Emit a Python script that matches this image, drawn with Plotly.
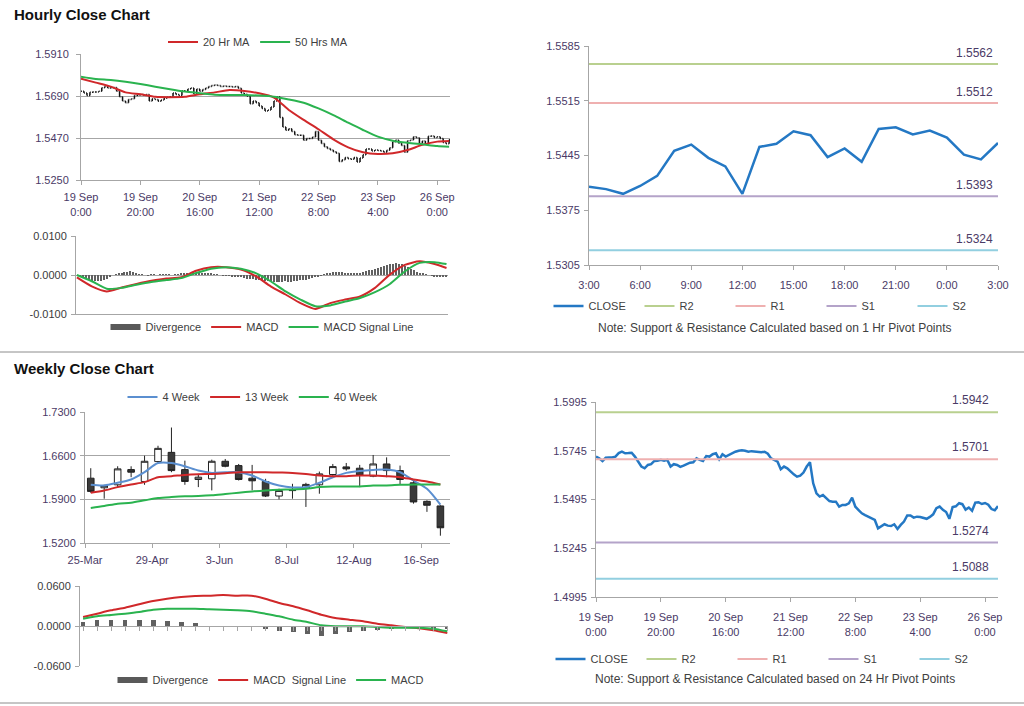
import plotly.graph_objects as go

FONT = "Liberation Sans, Arial, sans-serif"
W, H = 1024, 706
TICK_CLR = "#4a3a66"
TXT_CLR = "#404040"
GRID = "#a6a6a6"

# ---------------- Hourly data ----------------
hourly_close = [
    1.5715, 1.5706, 1.5692, 1.5709, 1.5711, 1.5711, 1.5715, 1.5733, 1.5740, 1.5732,
    1.5733, 1.5735, 1.5715, 1.5686, 1.5664, 1.5655, 1.5672, 1.5676, 1.5693, 1.5694,
    1.5698, 1.5694, 1.5698, 1.5664, 1.5676, 1.5672, 1.5662, 1.5669, 1.5678, 1.5684,
    1.5686, 1.5706, 1.5698, 1.5692, 1.5718, 1.5715, 1.5727, 1.5732, 1.5701, 1.5727,
    1.5715, 1.5724, 1.5732, 1.5740, 1.5745, 1.5747, 1.5745, 1.5740, 1.5743, 1.5740,
    1.5740, 1.5737, 1.5740, 1.5730, 1.5706, 1.5699, 1.5689, 1.5650, 1.5664, 1.5655,
    1.5638, 1.5624, 1.5612, 1.5617, 1.5633, 1.5664, 1.5686, 1.5578, 1.5527, 1.5510,
    1.5518, 1.5504, 1.5487, 1.5484, 1.5484, 1.5458, 1.5467, 1.5467, 1.5475, 1.5504,
    1.5458, 1.5441, 1.5424, 1.5415, 1.5407, 1.5398, 1.5390, 1.5347, 1.5356, 1.5368,
    1.5361, 1.5359, 1.5368, 1.5344, 1.5365, 1.5382, 1.5413, 1.5413, 1.5402, 1.5407,
    1.5405, 1.5402, 1.5396, 1.5406, 1.5419, 1.5451, 1.5459, 1.5442, 1.5431, 1.5396,
    1.5456, 1.5460, 1.5476, 1.5471, 1.5443, 1.5454, 1.5437, 1.5479, 1.5481, 1.5472,
    1.5477, 1.5468, 1.5446, 1.5440, 1.5461,
]
hourly_tick_idx = [0, 20, 40, 60, 80, 100, 120]
hourly_tick_text = ["19 Sep<br>0:00", "19 Sep<br>20:00", "20 Sep<br>16:00", "21 Sep<br>12:00",
                    "22 Sep<br>8:00", "23 Sep<br>4:00", "26 Sep<br>0:00"]

ma_idx = [0, 5, 10, 15, 20, 25, 30, 35, 40, 45, 50, 55, 60, 65, 70, 75, 80, 85, 90, 95,
          100, 105, 110, 115, 120, 124]
ma20_hourly = [1.5781, 1.5760, 1.5739, 1.5709, 1.5699, 1.5686, 1.5684, 1.5686, 1.5699, 1.5709,
               1.5721, 1.5716, 1.5704, 1.5682, 1.5617, 1.5565, 1.5516, 1.5463, 1.5421, 1.5395,
               1.5386, 1.5390, 1.5407, 1.5434, 1.5451, 1.5454]
ma50_hourly = [1.5791, 1.5779, 1.5774, 1.5765, 1.5753, 1.5739, 1.5725, 1.5713, 1.5705, 1.5697,
               1.5695, 1.5695, 1.5692, 1.5686, 1.5672, 1.5655, 1.5625, 1.5590, 1.5550, 1.5512,
               1.5477, 1.5456, 1.5445, 1.5437, 1.5428, 1.5424]
macd_hourly = [-0.0006, -0.0029, -0.0042, -0.0032, -0.0023, -0.0015, -0.0009, -0.0006, 0.0011, 0.0020,
               0.0020, 0.0014, -0.0003, -0.0029, -0.0050, -0.0072, -0.0087, -0.0072, -0.0063, -0.0055,
               -0.0033, 0.0001, 0.0026, 0.0035, 0.0028, 0.0018]
signal_hourly = [0.0000, -0.0016, -0.0035, -0.0033, -0.0025, -0.0018, -0.0013, -0.0008, 0.0005, 0.0016,
                 0.0020, 0.0016, 0.0005, -0.0016, -0.0042, -0.0063, -0.0080, -0.0078, -0.0068, -0.0059,
                 -0.0044, -0.0023, 0.0009, 0.0031, 0.0033, 0.0028]
divergence_hourly = [
    0.0000,
    -0.0005, -0.0008, -0.0011, -0.0013, -0.0015, -0.0016, -0.0016, -0.0015, -0.0012, -0.0009, -0.0005,
    0.0000, 0.0002,
    0.0003, 0.0005, 0.0007, 0.0008, 0.0009, 0.0007, 0.0004,
    0.0002, 0.0001, 0.0000, -0.0001, 0.0001, 0.0001, 0.0000, 0.0001, 0.0002, 0.0002, 0.0001, 0.0000,
    0.0001, 0.0002, 0.0003,
    0.0004, 0.0005, 0.0006, 0.0006, 0.0006, 0.0005, 0.0005, 0.0004, 0.0004, 0.0003, 0.0002, 0.0001,
    0.0000, -0.0001, -0.0001,
    -0.0002, -0.0003, -0.0004, -0.0005, -0.0006,
    -0.0007, -0.0009, -0.0010, -0.0011, -0.0012, -0.0013, -0.0014, -0.0015, -0.0016, -0.0017,
    -0.0017, -0.0018, -0.0018, -0.0017, -0.0016, -0.0017, -0.0018, -0.0016, -0.0015, -0.0014,
    -0.0013, -0.0012, -0.0010, -0.0008, -0.0006, -0.0004, -0.0002,
    0.0001, 0.0003, 0.0005, 0.0007, 0.0008, 0.0008, 0.0007, 0.0006, 0.0005, 0.0004, 0.0004,
    0.0005, 0.0006, 0.0008,
    0.0010, 0.0012, 0.0014, 0.0016, 0.0018, 0.0020, 0.0022, 0.0025, 0.0028, 0.0029, 0.0030,
    0.0029, 0.0027, 0.0024, 0.0020, 0.0016,
    0.0012, 0.0008, 0.0005, 0.0003, 0.0001, 0.0000,
    -0.0002, -0.0003, -0.0004, -0.0004, -0.0005, -0.0006,
]

last_day_labels = ["3:00", "6:00", "9:00", "12:00", "15:00", "18:00", "21:00", "0:00", "3:00"]
pivot_names = ["R2", "R1", "S1", "S2"]
pivot_colors = ["#b9d08f", "#efb0b0", "#b4a3c9", "#92cfe0"]
pivots_1h = [1.5562, 1.5512, 1.5393, 1.5324]
pivots_24h = [1.5942, 1.5701, 1.5274, 1.5088]

# ---------------- Weekly data ----------------
weekly_dates = ["2011-03-28", "2011-04-04", "2011-04-11", "2011-04-18", "2011-04-25", "2011-05-02",
                "2011-05-09", "2011-05-16", "2011-05-23", "2011-05-30", "2011-06-06", "2011-06-13",
                "2011-06-20", "2011-06-27", "2011-07-04", "2011-07-11", "2011-07-18", "2011-07-25",
                "2011-08-01", "2011-08-08", "2011-08-15", "2011-08-22", "2011-08-29", "2011-09-05",
                "2011-09-12", "2011-09-19", "2011-09-26"]
weekly_open = [1.6239, 1.6085, 1.6133, 1.6377, 1.6186, 1.6505, 1.6653, 1.6377, 1.6218, 1.6229,
               1.6510, 1.6441, 1.6239, 1.6186, 1.5953, 1.6040, 1.6080, 1.6133, 1.6298, 1.6420,
               1.6399, 1.6271, 1.6467, 1.6361, 1.6165, 1.5868, 1.5794]
weekly_high = [1.6399, 1.6135, 1.6430, 1.6430, 1.6600, 1.6759, 1.7051, 1.6520, 1.6308, 1.6536,
               1.6547, 1.6467, 1.6452, 1.6229, 1.6070, 1.6149, 1.6165, 1.6345, 1.6467, 1.6483,
               1.6452, 1.6611, 1.6573, 1.6441, 1.6202, 1.5884, 1.5805]
weekly_low = [1.6006, 1.5910, 1.6096, 1.6255, 1.6133, 1.6483, 1.6335, 1.6133, 1.6096, 1.6043,
              1.6414, 1.6202, 1.6043, 1.5937, 1.5900, 1.5910, 1.5778, 1.5990, 1.6255, 1.6361,
              1.6096, 1.6255, 1.6255, 1.6133, 1.5831, 1.5699, 1.5317]
weekly_close = [1.6027, 1.6120, 1.6388, 1.6335, 1.6510, 1.6717, 1.6361, 1.6186, 1.6255, 1.6510,
                1.6430, 1.6218, 1.6197, 1.5953, 1.6043, 1.6045, 1.6139, 1.6308, 1.6425, 1.6388,
                1.6282, 1.6467, 1.6361, 1.6218, 1.5858, 1.5805, 1.5444]
ma4_weekly = [1.6133, 1.6123, 1.6165, 1.6218, 1.6335, 1.6483, 1.6483, 1.6430, 1.6361, 1.6324,
              1.6335, 1.6335, 1.6282, 1.6186, 1.6123, 1.6091, 1.6096, 1.6165, 1.6255, 1.6324,
              1.6356, 1.6372, 1.6377, 1.6335, 1.6202, 1.6070, 1.5815]
ma13_weekly = [1.6006, 1.6043, 1.6096, 1.6139, 1.6176, 1.6255, 1.6271, 1.6292, 1.6303, 1.6308,
               1.6319, 1.6335, 1.6335, 1.6335, 1.6330, 1.6324, 1.6308, 1.6282, 1.6271, 1.6271,
               1.6282, 1.6282, 1.6271, 1.6255, 1.6218, 1.6186, 1.6139]
ma40_weekly = [1.5762, 1.5794, 1.5831, 1.5847, 1.5884, 1.5921, 1.5937, 1.5948, 1.5953, 1.5964,
               1.5985, 1.6006, 1.6027, 1.6043, 1.6054, 1.6059, 1.6070, 1.6096, 1.6107, 1.6107,
               1.6107, 1.6123, 1.6123, 1.6133, 1.6139, 1.6139, 1.6139]
weekly_tick_dates = ["2011-03-25", "2011-04-29", "2011-06-03", "2011-07-08", "2011-08-12", "2011-09-16"]
weekly_tick_text = ["25-Mar", "29-Apr", "3-Jun", "8-Jul", "12-Aug", "16-Sep"]

weekly_signal = [0.0135, 0.0185, 0.0235, 0.0275, 0.0325, 0.0375, 0.0410, 0.0435, 0.0450, 0.0455,
                 0.0465, 0.0455, 0.0455, 0.0410, 0.0345, 0.0295, 0.0235, 0.0170, 0.0120, 0.0095,
                 0.0070, 0.0035, 0.0010, -0.0015, -0.0035, -0.0065, -0.0105]
weekly_macd = [0.0110, 0.0145, 0.0165, 0.0185, 0.0210, 0.0245, 0.0260, 0.0260, 0.0260, 0.0250,
               0.0245, 0.0235, 0.0220, 0.0185, 0.0145, 0.0095, 0.0060, 0.0010, -0.0005, -0.0005,
               -0.0005, -0.0015, -0.0025, -0.0025, -0.0025, -0.0040, -0.0080]
weekly_div = [0.0060, 0.0095, 0.0095, 0.0095, 0.0095, 0.0095, 0.0075, 0.0060, 0.0045, 0.0000,
              0.0000, -0.0010, -0.0015, -0.0045, -0.0080, -0.0095, -0.0115, -0.0145, -0.0125, -0.0095,
              -0.0075, -0.0055, -0.0040, -0.0035, -0.0035, -0.0045, -0.0045]

# ---------------- helpers ----------------
def dom_x(x0, x1):
    return [x0 / W, x1 / W]

def dom_y(ytop, ybot):
    return [1 - ybot / H, 1 - ytop / H]

hidx = list(range(len(hourly_close)))
h_open = [hourly_close[0]] + hourly_close[:-1]
h_high = [max(o, c) for o, c in zip(h_open, hourly_close)]
h_low = [min(o, c) for o, c in zip(h_open, hourly_close)]

RED = "#d0282a"
GREEN = "#2ab34f"
BLUE = "#2478c4"
BLUE_LT = "#5b8fd0"

fig = go.Figure()

# ---- Panel 1: hourly bars + MAs ----
fig.add_trace(go.Ohlc(x=hidx, open=h_open, high=h_high, low=h_low, close=hourly_close,
                      increasing=dict(line=dict(color="#111", width=1.5)),
                      decreasing=dict(line=dict(color="#111", width=1.5)),
                      tickwidth=0.3, showlegend=False, xaxis="x", yaxis="y", hoverinfo="skip"))
fig.add_trace(go.Scatter(x=ma_idx, y=ma20_hourly, mode="lines", name="20 Hr MA",
                         line=dict(color=RED, width=2, shape="spline", smoothing=0.6),
                         xaxis="x", yaxis="y", legend="legend"))
fig.add_trace(go.Scatter(x=ma_idx, y=ma50_hourly, mode="lines", name="50 Hrs MA",
                         line=dict(color=GREEN, width=2, shape="spline", smoothing=0.6),
                         xaxis="x", yaxis="y", legend="legend"))

# ---- Panel 2: hourly MACD ----
fig.add_trace(go.Bar(x=hidx, y=divergence_hourly, marker=dict(color="#606060", line=dict(width=0)),
                     width=0.4, showlegend=False, xaxis="x2", yaxis="y2"))
fig.add_trace(go.Scatter(x=[None], y=[None], mode="lines", name="Divergence",
                         line=dict(color="#595959", width=6), xaxis="x2", yaxis="y2", legend="legend2"))
fig.add_trace(go.Scatter(x=ma_idx, y=macd_hourly, mode="lines", name="MACD",
                         line=dict(color=RED, width=2, shape="spline", smoothing=0.6),
                         xaxis="x2", yaxis="y2", legend="legend2"))
fig.add_trace(go.Scatter(x=ma_idx, y=signal_hourly, mode="lines", name="MACD Signal Line",
                         line=dict(color=GREEN, width=2, shape="spline", smoothing=0.6),
                         xaxis="x2", yaxis="y2", legend="legend2"))

# ---- Panel 3: last 24h close + pivots (1h) ----
last_day = hourly_close[-25:]
ld_idx = list(range(len(last_day)))
fig.add_trace(go.Scatter(x=ld_idx, y=last_day, mode="lines", name="CLOSE",
                         line=dict(color=BLUE, width=2.5), xaxis="x3", yaxis="y3", legend="legend3"))
for nm, clr, lv in zip(pivot_names, pivot_colors, pivots_1h):
    fig.add_trace(go.Scatter(x=[ld_idx[0], ld_idx[-1]], y=[lv, lv], mode="lines", name=nm,
                             line=dict(color=clr, width=2), xaxis="x3", yaxis="y3", legend="legend3"))
    fig.add_annotation(x=ld_idx[-1], y=lv, xref="x3", yref="y3", text=f"{lv:.4f}", showarrow=False,
                       xanchor="right", yanchor="bottom", yshift=2, xshift=-3,
                       font=dict(size=12, color=TICK_CLR, family=FONT))

# ---- Panel 4: weekly candles + MAs ----
fig.add_trace(go.Candlestick(x=weekly_dates, open=weekly_open, high=weekly_high, low=weekly_low,
                             close=weekly_close,
                             increasing=dict(line=dict(color="#222", width=1), fillcolor="#ffffff"),
                             decreasing=dict(line=dict(color="#222", width=1), fillcolor="#3a3a3a"),
                             whiskerwidth=0, showlegend=False, xaxis="x4", yaxis="y4", hoverinfo="skip"))
for nm, vals, clr in [("4 Week", ma4_weekly, BLUE_LT), ("13 Week", ma13_weekly, RED),
                      ("40 Week", ma40_weekly, GREEN)]:
    fig.add_trace(go.Scatter(x=weekly_dates, y=vals, mode="lines", name=nm,
                             line=dict(color=clr, width=2, shape="spline", smoothing=0.8),
                             xaxis="x4", yaxis="y4", legend="legend4"))

# ---- Panel 5: weekly MACD ----
widx = list(range(len(weekly_dates)))
fig.add_trace(go.Bar(x=widx, y=weekly_div, marker=dict(color="#606060", line=dict(width=0)),
                     width=0.34, showlegend=False, xaxis="x5", yaxis="y5"))
fig.add_trace(go.Scatter(x=[None], y=[None], mode="lines", name="Divergence",
                         line=dict(color="#595959", width=6), xaxis="x5", yaxis="y5", legend="legend5"))
fig.add_trace(go.Scatter(x=widx, y=weekly_signal, mode="lines", name="MACD  Signal Line",
                         line=dict(color=RED, width=2, shape="spline", smoothing=0.6),
                         xaxis="x5", yaxis="y5", legend="legend5"))
fig.add_trace(go.Scatter(x=widx, y=weekly_macd, mode="lines", name="MACD",
                         line=dict(color=GREEN, width=2, shape="spline", smoothing=0.6),
                         xaxis="x5", yaxis="y5", legend="legend5"))

# ---- Panel 6: hourly close + pivots (24h) ----
fig.add_trace(go.Scatter(x=hidx, y=hourly_close, mode="lines", name="CLOSE",
                         line=dict(color=BLUE, width=2.5), xaxis="x6", yaxis="y6", legend="legend6"))
for nm, clr, lv in zip(pivot_names, pivot_colors, pivots_24h):
    fig.add_trace(go.Scatter(x=[hidx[0], hidx[-1]], y=[lv, lv], mode="lines", name=nm,
                             line=dict(color=clr, width=2), xaxis="x6", yaxis="y6", legend="legend6"))
    fig.add_annotation(x=hidx[-1], y=lv, xref="x6", yref="y6", text=f"{lv:.4f}", showarrow=False,
                       xanchor="right", yanchor="bottom", yshift=3, xshift=-7,
                       font=dict(size=12, color=TICK_CLR, family=FONT))

# ---------------- axes ----------------
tf = dict(size=11, color=TICK_CLR, family=FONT)
tf2 = dict(size=11, color="#3a3a3a", family=FONT)

def yax(domain, anchor, rng, tickvals, fmt, grid=True, font=tf, standoff=2):
    return dict(domain=domain, anchor=anchor, range=rng, tickvals=tickvals,
                ticktext=[format(v, fmt) for v in tickvals], tickfont=font,
                showgrid=grid, gridcolor=GRID, gridwidth=1, zeroline=False,
                showline=True, linecolor=GRID, linewidth=1, automargin=False,
                ticks="outside", ticklen=4, tickcolor=GRID, ticklabelstandoff=standoff, fixedrange=True)

def xax(domain, anchor, rng, tickvals=None, ticktext=None, labels=True, typ="linear"):
    d = dict(domain=domain, anchor=anchor, range=rng, type=typ, showgrid=False, zeroline=False,
             showline=True, linecolor=GRID, linewidth=1, ticks="outside", ticklen=4,
             tickcolor=GRID, tickfont=tf, showticklabels=labels, fixedrange=True, automargin=False,
             rangeslider=dict(visible=False), ticklabelstandoff=3)
    if tickvals is not None:
        d["tickvals"] = tickvals
        d["ticktext"] = ticktext
    return d

layout = dict(
    width=W, height=H, autosize=False,
    margin=dict(l=0, r=0, t=0, b=0, pad=0, autoexpand=False),
    paper_bgcolor="white", plot_bgcolor="white", font=dict(family=FONT, color=TXT_CLR, size=11),
    bargap=0, showlegend=True,
)

layout["xaxis"] = xax(dom_x(81, 450), "y", [0, 124.3], hourly_tick_idx, hourly_tick_text)
layout["yaxis"] = yax(dom_y(54, 180), "x", [1.525, 1.591], [1.525, 1.547, 1.569, 1.591], ".4f", standoff=5)

layout["xaxis2"] = xax(dom_x(76, 448), "y2", [-0.3, 124.5], labels=False)
layout["xaxis2"]["ticks"] = ""
layout["yaxis2"] = yax(dom_y(236, 314), "x2", [-0.01, 0.01], [-0.01, 0.0, 0.01], ".4f", font=tf2)
layout["yaxis2"]["zeroline"] = True
layout["yaxis2"]["zerolinecolor"] = GRID
layout["yaxis2"]["zerolinewidth"] = 1

layout["xaxis3"] = xax(dom_x(589, 998), "y3", [0, 24], list(range(0, 25, 3)), last_day_labels)
layout["xaxis3"]["ticklabelstandoff"] = 6
layout["yaxis3"] = yax(dom_y(46, 265), "x3", [1.5305, 1.5585],
                       [1.5305, 1.5375, 1.5445, 1.5515, 1.5585], ".4f", grid=False)

layout["xaxis4"] = xax(dom_x(85, 450), "y4", ["2011-03-25", "2011-10-01"], weekly_tick_dates,
                       weekly_tick_text, typ="date")
layout["yaxis4"] = yax(dom_y(412, 543), "x4", [1.52, 1.73], [1.52, 1.59, 1.66, 1.73], ".4f")

y5dom = dom_y(586, 666)
layout["xaxis5"] = xax(dom_x(80, 448), "free", [-0.22, 26.05], labels=False)
layout["xaxis5"]["position"] = (y5dom[0] + y5dom[1]) / 2
layout["xaxis5"]["tickvals"] = widx
layout["xaxis5"]["ticklen"] = 4
layout["yaxis5"] = yax(y5dom, "x5", [-0.06, 0.06], [-0.06, 0.0, 0.06], ".4f", font=tf2)

layout["xaxis6"] = xax(dom_x(596, 998), "y6", [0, 124], hourly_tick_idx, hourly_tick_text)
layout["xaxis6"]["ticklabelstandoff"] = 6
layout["yaxis6"] = yax(dom_y(402, 597), "x6", [1.4995, 1.5995],
                       [1.4995, 1.5245, 1.5495, 1.5745, 1.5995], ".4f", grid=False)

def leg(xc, yc, entrywidth=None):
    d = dict(orientation="h", x=xc / W, y=1 - yc / H, xanchor="center", yanchor="middle",
             font=dict(size=11, color=TXT_CLR, family=FONT), bgcolor="rgba(0,0,0,0)",
             itemclick=False, itemdoubleclick=False)
    if entrywidth:
        d["entrywidth"] = entrywidth
    return d

layout["legend"] = leg(258, 42)
layout["legend2"] = leg(262, 327)
layout["legend3"] = leg(776, 306, 46)
layout["legend4"] = leg(253, 397)
layout["legend5"] = leg(271, 680)
layout["legend6"] = leg(778, 659, 46)

fig.update_layout(**layout)

# titles and notes
fig.add_annotation(x=12 / W, y=1 - 15 / H, xref="paper", yref="paper", text="<b>Hourly Close Chart</b>",
                   showarrow=False, xanchor="left", yanchor="middle",
                   font=dict(size=15, color="#111", family=FONT))
fig.add_annotation(x=12 / W, y=1 - 369 / H, xref="paper", yref="paper", text="<b>Weekly Close Chart</b>",
                   showarrow=False, xanchor="left", yanchor="middle",
                   font=dict(size=15, color="#111", family=FONT))
fig.add_annotation(x=775 / W, y=1 - 328 / H, xref="paper", yref="paper",
                   text="Note: Support & Resistance Calculated based on 1 Hr Pivot Points",
                   showarrow=False, xanchor="center", yanchor="middle",
                   font=dict(size=12, color=TXT_CLR, family=FONT))
fig.add_annotation(x=775 / W, y=1 - 679 / H, xref="paper", yref="paper",
                   text="Note: Support & Resistance Calculated based on 24 Hr Pivot Points",
                   showarrow=False, xanchor="center", yanchor="middle",
                   font=dict(size=12, color=TXT_CLR, family=FONT))

# separators
for ypx in (352, 703):
    fig.add_shape(type="line", xref="paper", yref="paper", x0=0, x1=1, y0=1 - ypx / H, y1=1 - ypx / H,
                  line=dict(color="#8c8c8c", width=1))

fig.write_html("out.html", config={"displayModeBar": False},
               post_script="document.body.style.margin='0';document.body.style.overflow='hidden';")
